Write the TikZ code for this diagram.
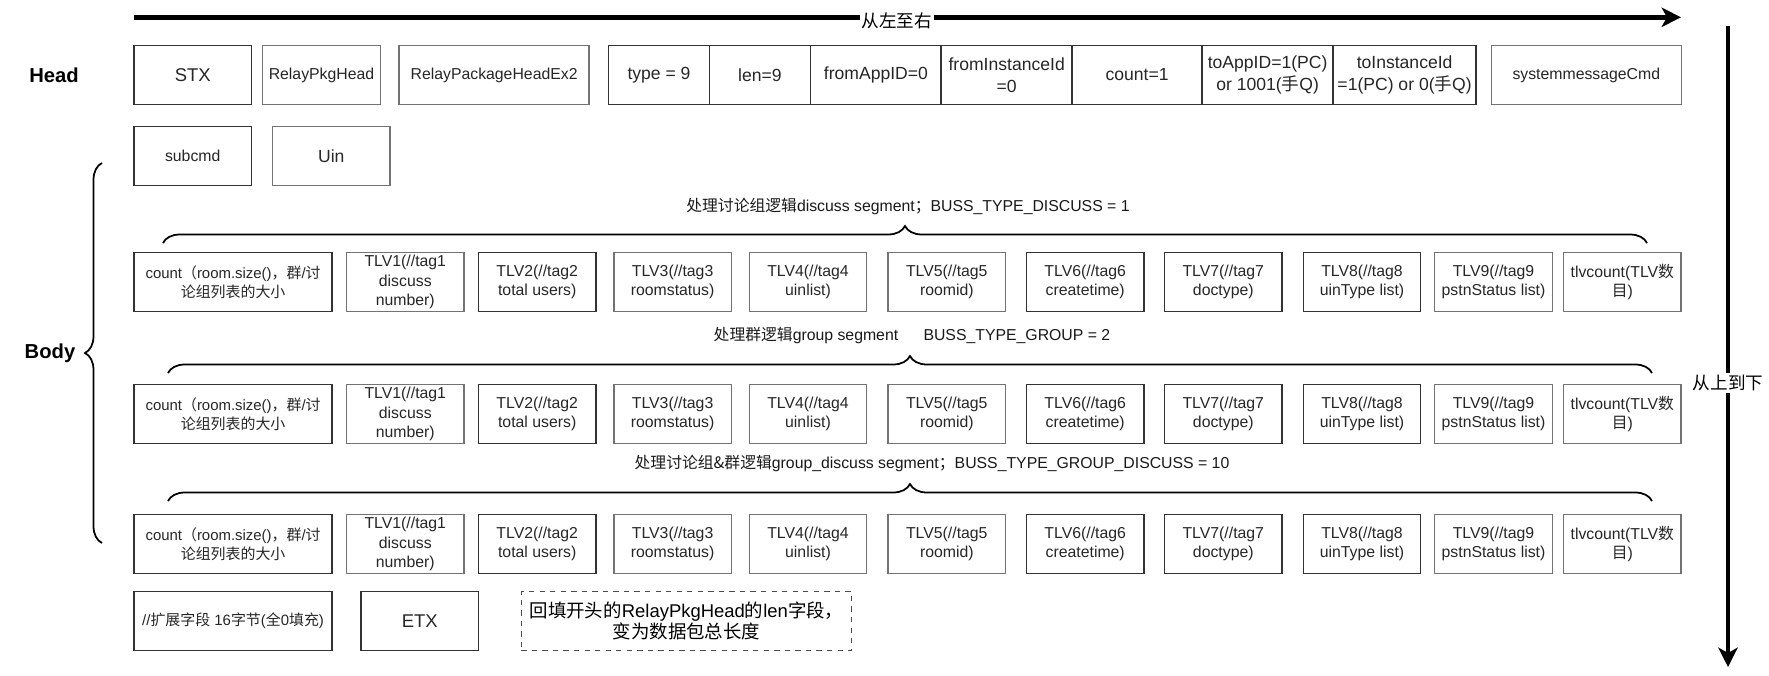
\documentclass[tikz,border=0pt]{standalone}
\usepackage{fontspec}
\setmainfont{Liberation Sans}
\newfontfamily\cjk{Noto Sans CJK SC}
\newcommand{\zhtxt}[1]{{\cjk #1}}
\usepackage{tikz}
\usetikzlibrary{arrows.meta,positioning,decorations.pathreplacing}
\tikzset{
  field/.style={
    draw=black!80,
    line width=0.8pt,
    text=black!85,
    align=center,
    inner sep=0pt,
    outer sep=0pt,
    minimum height=1.17cm,
    font=\fontsize{10}{12.3}\selectfont
  },
  fieldg/.style={field, draw=black!55},
  small/.style={font=\fontsize{9}{11}\selectfont},
  tlv/.style={field, minimum width=2.35cm, minimum height=1.19cm, font=\fontsize{9}{11.1}\selectfont},
  headlabel/.style={font=\bfseries\fontsize{11.5}{13}\selectfont},
  seglabel/.style={font=\fontsize{9}{11}\selectfont, text=black!90},
  segbrace/.style={decorate, decoration={brace, amplitude=0.34cm}, line width=1pt},
  bigarrow/.style={-{Stealth[length=11pt, width=11pt, inset=3pt]}, line width=2.8pt},
  note/.style={draw=black!70, dashed, line width=0.7pt, align=center, inner sep=0pt,
    font=\fontsize{10.5}{12.3}\selectfont}
}
\begin{document}
\begin{tikzpicture}[x=0.02cm, y=-0.02cm]
\useasboundingbox (0,0) rectangle (1769,676);
% reading order
\coordinate (lr0) at (134,17.3);
\coordinate (lr1) at (1681,17.3);
\coordinate (tb0) at (1728,26);
\coordinate (tb1) at (1728,667);
\draw[bigarrow] (lr0) -- node[pos=0.493, fill=white, inner sep=1pt, yshift=-2pt, font=\fontsize{10}{12}\selectfont] (lrtxt) {\zhtxt{从左至右}} (lr1);
\draw[bigarrow] (tb0) -- node[pos=0.557, fill=white, inner sep=1pt, font=\fontsize{10}{12}\selectfont] (tbtxt) {\zhtxt{从上到下}} (tb1);

% head
\node[headlabel] (head) at (54,75) {Head};
\node[field, minimum width=2.35cm, font=\fontsize{10.5}{12}\selectfont] (stx) at (192.7,75) {STX};
\node[fieldg, small, minimum width=2.36cm] (rph) at (321.5,75) {RelayPkgHead};
\node[fieldg, small, minimum width=3.80cm] (rphx) at (494.1,75) {RelayPackageHeadEx2};
\node[field, minimum width=2.01cm] (type) at (659,75) {type = 9};
\node[field, minimum width=2.03cm, right=0pt of type] (len) {len=9};
\node[field, minimum width=2.61cm, right=0pt of len] (fapp) {fromAppID=0};
\node[field, minimum width=2.62cm, right=0pt of fapp] (finst) {fromInstanceId\\=0};
\node[field, minimum width=2.60cm, right=0pt of finst] (count) {count=1};
\node[field, minimum width=2.62cm, right=0pt of count] (tapp) {toAppID=1(PC)\\or 1001(\zhtxt{手}Q)};
\node[field, minimum width=2.86cm, right=0pt of tapp] (tinst) {toInstanceId\\=1(PC) or 0(\zhtxt{手}Q)};
\node[fieldg, small, minimum width=3.80cm] (smc) at (1586.3,75) {systemmessageCmd};
\node[field, small, minimum width=2.35cm] (subcmd) at (192.7,156) {subcmd};
\node[fieldg, minimum width=2.35cm] (uin) at (331.3,156) {Uin};

% body
\node[headlabel] (body) at (50,353) {Body};
\draw[segbrace] (102,543) -- (102,163);
\foreach \r/\y in {1/282,2/414,3/544}{
  \node[field, minimum width=3.96cm, font=\fontsize{8.5}{11}\selectfont] (cnt\r) at (233.1,\y) {count\zhtxt{（}room.size()\zhtxt{，群}/\zhtxt{讨}\\\zhtxt{论组列表的大小}};
  \node[tlv, draw=black!55] (tlv\r-1) at (405.3,\y) {TLV1(//tag1\\discuss\\number)};
  \node[tlv] (tlv\r-2) at (537.2,\y) {TLV2(//tag2\\total users)};
  \node[tlv, draw=black!55] (tlv\r-3) at (672.6,\y) {TLV3(//tag3\\roomstatus)};
  \node[tlv, draw=black!55] (tlv\r-4) at (808,\y) {TLV4(//tag4\\uinlist)};
  \node[tlv, draw=black!55] (tlv\r-5) at (946.8,\y) {TLV5(//tag5\\roomid)};
  \node[tlv] (tlv\r-6) at (1085.2,\y) {TLV6(//tag6\\createtime)};
  \node[tlv] (tlv\r-7) at (1223.3,\y) {TLV7(//tag7\\doctype)};
  \node[tlv] (tlv\r-8) at (1362,\y) {TLV8(//tag8\\uinType list)};
  \node[tlv, draw=black!55] (tlv\r-9) at (1493.5,\y) {TLV9(//tag9\\pstnStatus list)};
  \node[tlv, draw=black!55] (tlvc\r) at (1622.3,\y) {tlvcount(TLV\zhtxt{数}\\\zhtxt{目})};
}
\draw[segbrace] (163,243) -- (1647,243);
\draw[segbrace] (168,373) -- (1652,373);
\draw[segbrace] (168,501) -- (1652,501);
\node[seglabel] (seg1) at (908,206) {\zhtxt{处理讨论组逻辑}discuss segment\zhtxt{；}BUSS\_TYPE\_DISCUSS = 1};
\node[seglabel] (seg2) at (912,335) {\zhtxt{处理群逻辑}group segment\hspace{1.6em}BUSS\_TYPE\_GROUP = 2};
\node[seglabel] (seg3) at (932,463) {\zhtxt{处理讨论组\&群逻辑}group\_discuss segment\zhtxt{；}BUSS\_TYPE\_GROUP\_DISCUSS = 10};

% tail
\node[field, minimum width=3.96cm, font=\fontsize{8.5}{11}\selectfont] (ext) at (233.1,621) {//\zhtxt{扩展字段} 16\zhtxt{字节}(\zhtxt{全}0\zhtxt{填充})};
\node[field, minimum width=2.35cm, font=\fontsize{10.5}{12}\selectfont] (etx) at (419.7,621) {ETX};
\node[note, minimum width=6.61cm, minimum height=1.17cm] (fillnote) at (686.5,621) {\zhtxt{回填开头的}RelayPkgHead\zhtxt{的}len\zhtxt{字段，}\\\zhtxt{变为数据包总长度}};
\end{tikzpicture}
\end{document}
